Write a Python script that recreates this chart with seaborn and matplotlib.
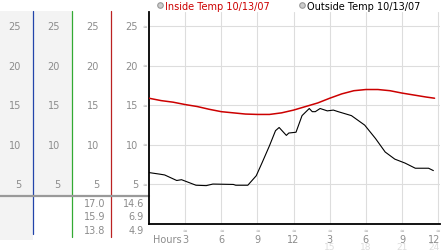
import matplotlib
matplotlib.use("Agg")
import matplotlib.pyplot as plt
import matplotlib.transforms as mtransforms
import seaborn as sns
import pandas as pd

# ---- data ----
inside_hours = [0, 1, 2, 3, 4, 5, 6, 7, 8, 9, 10, 11, 12, 13, 14, 15, 16, 17, 18, 19, 20, 21, 22, 23, 23.7]
inside_temp = [15.9, 15.6, 15.4, 15.1, 14.85, 14.5, 14.2, 14.05, 13.9, 13.85, 13.85, 14.05, 14.4,
               14.85, 15.3, 15.9, 16.45, 16.85, 17.0, 17.0, 16.85, 16.55, 16.3, 16.05, 15.9]
outside_hours = [0, 0.9, 1.3, 2.3, 2.7, 3.9, 4.75, 5.3, 7.0, 7.2, 8.2, 8.9, 9.4, 10.0, 10.5, 10.8,
                 11.4, 11.6, 12.2, 12.7, 13.3, 13.55, 13.8, 14.2, 14.8, 15.3, 15.7, 16.8, 17.9,
                 18.8, 19.6, 20.4, 21.25, 22.1, 23.2, 23.6]
outside_temp = [6.5, 6.3, 6.2, 5.5, 5.6, 4.9, 4.85, 5.05, 5.0, 4.9, 4.9, 6.1, 7.8, 9.9, 11.8, 12.2,
                11.2, 11.5, 11.6, 13.7, 14.6, 14.2, 14.2, 14.6, 14.3, 14.4, 14.2, 13.7, 12.5,
                10.8, 9.1, 8.2, 7.7, 7.05, 7.05, 6.75]
y_ticks = [5, 10, 15, 20, 25]
x_ticks = [3, 6, 9, 12, 15, 18, 21, 24]
x_labels_top = ["3", "6", "9", "12", "3", "6", "9", "12"]
x_labels_bottom = ["", "", "", "", "15", "18", "21", "24"]
inside_stats = ["17.0", "15.9", "13.8"]
outside_stats = ["14.6", "6.9", "4.9"]
legend_labels = ["Inside Temp 10/13/07", "Outside Temp 10/13/07"]

RED = "#cc0000"
GRID = "#dddddd"
LABEL = "#8c8c8c"

sns.set_style("white")
plt.rcParams["font.family"] = ["DejaVu Sans"]

W, H = 442, 253
fig = plt.figure(figsize=(W / 100, H / 100), dpi=100)

# overlay in pixel coordinates for panel decorations
bg = fig.add_axes([0, 0, 1, 1], zorder=0)
bg.set_xlim(0, W)
bg.set_ylim(H, 0)
bg.axis("off")

# main axes
ax = fig.add_axes([149 / W, 1 - 225 / H, (440 - 149) / W, (225 - 13) / H], zorder=2)
ax.patch.set_alpha(0)
ax.set_xlim(0, 24.15)
ax.set_ylim(0, 26.8)

df_in = pd.DataFrame({"hour": inside_hours, "temp": inside_temp})
df_out = pd.DataFrame({"hour": outside_hours, "temp": outside_temp})
sns.lineplot(data=df_in, x="hour", y="temp", ax=ax, color=RED, linewidth=1.1, zorder=3)
sns.lineplot(data=df_out, x="hour", y="temp", ax=ax, color="black", linewidth=0.8, zorder=3)

for yv in y_ticks:
    ax.axhline(yv, color=GRID, lw=0.8, zorder=1)
for xv in x_ticks:
    ax.axvline(xv, color=GRID, lw=0.8, zorder=1)

ax.set_xticks([])
ax.set_yticks([])
ax.set_xlabel("")
ax.set_ylabel("")
for s in ["top", "right"]:
    ax.spines[s].set_visible(False)
ax.spines["left"].set_color("black")
ax.spines["left"].set_linewidth(1.3)
ax.spines["bottom"].set_color("black")
ax.spines["bottom"].set_linewidth(1.3)

# panel backgrounds
bg.fill_between([0, 33], 12, 241, color="#f3f3f3", lw=0)
bg.fill_between([33, 72], 12, 197, color="#f3f3f3", lw=0)
# coloured separators
bg.plot([33, 33], [12, 235], color="#2244aa", lw=0.9)
bg.plot([72, 72], [12, 238], color="#33aa33", lw=0.9)
bg.plot([111, 111], [12, 238], color="#bb2222", lw=0.9)
# gray horizontal separator
bg.plot([0, 149], [197, 197], color="#999999", lw=1.6)

# y labels repeated in each panel
ytr = mtransforms.blended_transform_factory(bg.transData, ax.transData)
for xr in [21, 60, 99, 138]:
    for yv in y_ticks:
        bg.text(xr, yv, str(yv), transform=ytr, ha="right", va="center",
                fontsize=7, color=LABEL)
for yv in y_ticks:
    bg.text(145, yv, "≈", transform=ytr, ha="center", va="center", fontsize=4, color="#aaaaaa")

# stats
for i, (a, b) in enumerate(zip(inside_stats, outside_stats)):
    yy = 204 + i * 13.5
    bg.text(105, yy, a, ha="right", va="center", fontsize=7, color=LABEL)
    bg.text(144, yy, b, ha="right", va="center", fontsize=7, color=LABEL)

# x labels
xtr = mtransforms.blended_transform_factory(ax.transData, bg.transData)
bg.text(153, 240, "Hours", ha="left", va="center", fontsize=7, color=LABEL)
for xv, t1, t2 in zip(x_ticks, x_labels_top, x_labels_bottom):
    last = xv == x_ticks[-1]
    ha = "right" if last else "center"
    xp = 24.15 if last else xv
    bg.text(xv, 231, "≈", transform=xtr, ha="center", va="center", fontsize=4, color="#aaaaaa")
    bg.text(xp, 240, t1, transform=xtr, ha=ha, va="center", fontsize=7, color=LABEL)
    if t2:
        bg.text(xp, 248, t2, transform=xtr, ha=ha, va="center", fontsize=6.5, color="#dddddd")

# legend
for xm, lab, col in [(160, legend_labels[0], RED), (302, legend_labels[1], "black")]:
    bg.plot([xm], [6], marker="o", ms=4, mfc="#cccccc", mec="#999999", mew=0.8)
    bg.text(xm + 5, 6.5, lab, ha="left", va="center", fontsize=7, color=col)

fig.savefig("out.png", dpi=100)
